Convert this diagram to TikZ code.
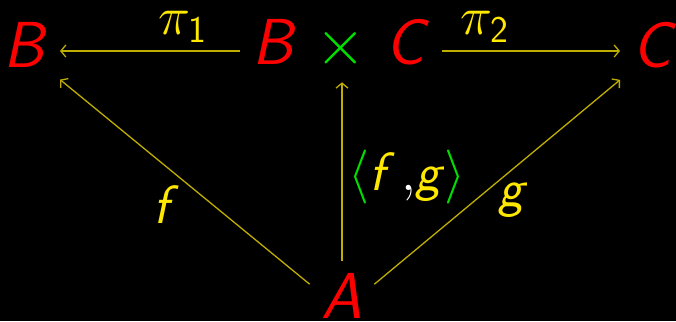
\documentclass[tikz,border=0pt]{standalone}
\usepackage{fix-cm}
\usepackage{amsmath}
\usepackage{fontspec}
\usetikzlibrary{arrows.meta}
\newcommand{\sfi}[1]{\textsf{\itshape #1}}

\begin{document}
\begin{tikzpicture}[x=1pt, y=-1pt, >={Straight Barb[length=5pt, width=12pt]},
    obj/.style={text=objred, inner sep=0pt, outer sep=12pt, font=\fontsize{65}{70}\selectfont},
    lbl/.style={text=lblyel, inner sep=0pt, font=\fontsize{54}{60}\selectfont},
    arr/.style={->, draw=lineyel, line width=1.3pt}]
  \definecolor{objred}{HTML}{FF0000}
  \definecolor{grn}{HTML}{00E000}
  \definecolor{lblyel}{HTML}{FFE800}
  \definecolor{lineyel}{HTML}{BFAE00}

  % Background
  \fill[black] (0,0) rectangle (676,321);
  \useasboundingbox (0,0) rectangle (676,321);

  % Define positions
  \node[obj] (b) at (26,45) {\sfi{B}};
  \node[obj] (bc) at (341,45) {\sfi{B} \textcolor{grn}{$\times$} \sfi{C}};
  \node[obj] (c) at (654,45) {\sfi{C}};
  \node[obj] (a) at (342,296) {\sfi{A}};

  % Arrows
  \draw[arr] ([yshift=-6pt]bc.west) -- ([yshift=-6pt]b.east);
  \draw[arr] ([yshift=-6pt]bc.east) -- ([yshift=-6pt]c.west);
  \draw[arr] (a.160) -- (b.south east);
  \draw[arr] (a.north) -- (a.north |- bc.south);
  \draw[arr] (a.20) -- (c.south west);

  % Labels
  \node[lbl] (p1) at (183,27) {$\pi_{\textsf{1}}$};
  \node[lbl] (p2) at (485,27) {$\pi_{\textsf{2}}$};
  \node[lbl] (f) at (166,205) {\sfi{f}};
  \node[lbl] (fg) at (407,177) {\textcolor{grn}{$\langle$}\sfi{f}\hspace{0.12em}\textcolor{white}{$,$}\sfi{g}\textcolor{grn}{$\rangle$}};
  \node[lbl] (g) at (513,200) {\sfi{g}};
\end{tikzpicture}
\end{document}
